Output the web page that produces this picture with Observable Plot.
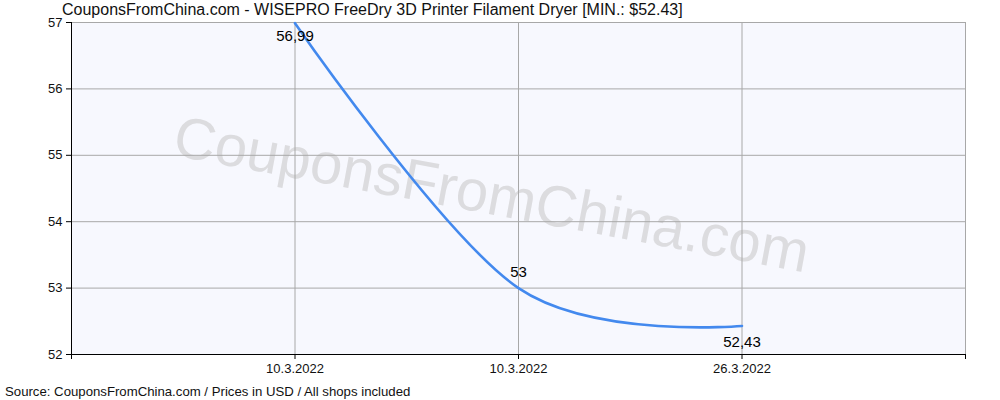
<!DOCTYPE html>
<html>
<head>
<meta charset="utf-8">
<script src="https://cdn.jsdelivr.net/npm/d3@7"></script>
<script src="https://cdn.jsdelivr.net/npm/@observablehq/plot@0.6"></script>
<style>
  body { margin: 0; background: #fff; font-family: "Liberation Sans", Arial, sans-serif; }
  #wrap { width: 1000px; height: 400px; position: relative; overflow: hidden; }
  #title { height: 10px; line-height: 20px; font-size: 16px; padding-left: 62px; color: #111; white-space: nowrap; overflow: visible; }
  #caption { height: 16px; line-height: 16px; font-size: 13.2px; padding-left: 5px; color: #111; white-space: nowrap; }
  svg { display: block; position: relative; }
</style>
</head>
<body>
<div id="wrap">
  <div id="title">CouponsFromChina.com - WISEPRO FreeDry 3D Printer Filament Dryer [MIN.: $52.43]</div>
  <div id="chart"></div>
  <div id="caption">Source: CouponsFromChina.com / Prices in USD / All shops included</div>
</div>
<script>
const dates = ["10.3.2022", "10.3.2022", "26.3.2022"];
const prices = [56.99, 53, 52.43];
const priceLabels = ["56,99", "53", "52,43"];
const labelBelow = [true, false, true];
const yTicks = [52, 53, 54, 55, 56, 57];
const watermark = "CouponsFromChina.com";

const data = prices.map((p, i) => ({i, price: p, label: priceLabels[i], below: labelBelow[i]}));
const xEdges = [-1, 0, 1, 2, 3];
const font = '"Liberation Sans", Arial, sans-serif';

const chart = Plot.plot({
  width: 1000,
  height: 374,
  marginTop: 12,
  marginBottom: 30,
  marginLeft: 71,
  marginRight: 35,
  style: {fontFamily: font, fontSize: "13px", color: "#111", background: "transparent"},
  x: {type: "linear", domain: [-1, 3]},
  y: {domain: [52, 57]},
  marks: [
    Plot.frame({fill: "#f7f8fe", stroke: null}),
    Plot.text([watermark], {text: d => d, frameAnchor: "middle", dx: -27, dy: 7, rotate: 10.5, fontSize: 58, fill: "#dcdcdf", fontFamily: font}),
    Plot.gridY(yTicks, {stroke: "#a8a8a8", strokeOpacity: 1}),
    Plot.gridX(xEdges.slice(1), {stroke: "#a8a8a8", strokeOpacity: 1}),
    Plot.axisY(yTicks, {tickSize: 5, tickPadding: 4, label: null, fontSize: 13, stroke: "#000", tickFormat: d => String(d)}),
    Plot.axisX(xEdges, {tickSize: 5, tickPadding: 4, label: null, fontSize: 13, stroke: "#000", tickFormat: i => dates[i] ?? ""}),
    Plot.ruleX([-1], {stroke: "#000"}),
    Plot.ruleY([52], {stroke: "#000"}),
    Plot.line(data, {x: "i", y: "price", curve: "cardinal", stroke: "#4389ee", strokeWidth: 2.6}),
    Plot.text(data.filter(d => d.below && d.i === 0), {x: "i", y: "price", text: "label", dy: 13, fontSize: 15, fill: "#000"}),
    Plot.text(data.filter(d => d.below && d.i !== 0), {x: "i", y: "price", text: "label", dy: 16, fontSize: 15, fill: "#000"}),
    Plot.text(data.filter(d => !d.below), {x: "i", y: "price", text: "label", dy: -16, fontSize: 15, fill: "#000"})
  ]
});
document.getElementById("chart").appendChild(chart);
</script>
</body>
</html>
